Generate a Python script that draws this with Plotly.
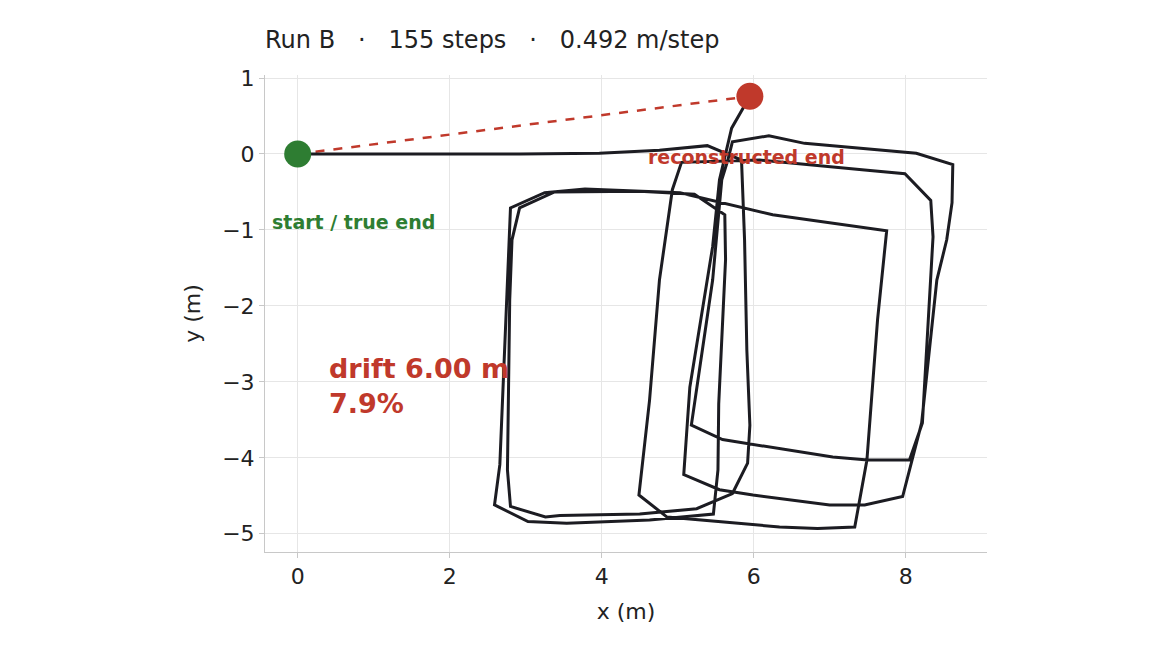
import plotly.graph_objects as go

path_x = [0, 1.34, 2.92, 3.97, 4.76, 5.39, 5.84, 5.88, 5.91, 5.95, 5.92, 5.72, 5.25, 4.50, 3.45, 3.26,
          2.80, 2.76, 2.79, 2.82, 2.92, 3.38, 4.50, 5.22, 5.62, 5.63, 5.59, 5.54, 5.53, 5.47, 4.63,
          3.54, 3.03, 2.59, 2.66, 2.71, 2.75, 2.78, 2.80, 3.25, 3.78, 5.03, 6.25, 7.75, 7.63, 7.49,
          7.33, 6.84, 6.34, 4.86, 4.49, 4.63, 4.76, 4.93, 5.05, 6.08, 7.46, 7.99, 8.33, 8.36, 8.22,
          8.05, 7.50, 7.04, 5.59, 5.18, 5.46, 5.58, 5.66, 5.72, 6.20, 6.67, 8.14, 8.62, 8.61, 8.54,
          8.41, 8.21, 7.96, 7.46, 7.00, 5.99, 5.55, 5.08, 5.16, 5.46, 5.55, 5.71, 5.95]
path_y = [0, 0, 0, 0.01, 0.05, 0.11, -0.08, -1.13, -2.58, -3.57, -4.07, -4.47, -4.67, -4.74, -4.76, -4.78,
          -4.64, -4.16, -1.92, -1.13, -0.71, -0.50, -0.49, -0.53, -0.80, -1.39, -2.32, -3.29, -4.16, -4.74, -4.82,
          -4.86, -4.84, -4.62, -4.09, -2.97, -1.92, -1.20, -0.71, -0.51, -0.46, -0.51, -0.80, -1.01, -2.18, -4.03,
          -4.91, -4.93, -4.91, -4.78, -4.49, -3.24, -1.66, -0.47, -0.11, -0.08, -0.21, -0.26, -0.61, -1.09, -3.54,
          -4.03, -4.03, -3.99, -3.76, -3.57, -1.66, -0.34, -0.08, 0.16, 0.24, 0.14, 0.01, -0.14, -0.64, -1.13,
          -1.66, -3.54, -4.51, -4.62, -4.62, -4.49, -4.42, -4.22, -3.07, -1.22, -0.34, 0.34, 0.76]
start_pt = (0.0, 0.0)
end_pt = (5.95, 0.76)
x_ticks = [0, 2, 4, 6, 8]
y_ticks = [1, 0, -1, -2, -3, -4, -5]

RED = "#c0392b"
GREEN = "#2e7d32"
FONT = "DejaVu Sans"

fig = go.Figure()
fig.add_trace(go.Scatter(x=[start_pt[0], end_pt[0]], y=[start_pt[1], end_pt[1]], mode="lines",
                         line=dict(color=RED, width=2.5, dash="dash"), showlegend=False))
fig.add_trace(go.Scatter(x=path_x, y=path_y, mode="lines",
                         line=dict(color="#1c1c22", width=3), showlegend=False))
fig.add_trace(go.Scatter(x=[start_pt[0]], y=[start_pt[1]], mode="markers",
                         marker=dict(color=GREEN, size=27), showlegend=False))
fig.add_trace(go.Scatter(x=[end_pt[0]], y=[end_pt[1]], mode="markers",
                         marker=dict(color=RED, size=27), showlegend=False))

fig.add_annotation(x=-0.36, y=-0.9, text="<b>start / true end</b>", showarrow=False,
                   xanchor="left", font=dict(color=GREEN, size=19, family=FONT))
fig.add_annotation(x=5.9, y=-0.04, text="<b>reconstructed end</b>", showarrow=False,
                   font=dict(color=RED, size=19, family=FONT))
fig.add_annotation(x=0.39, y=-3.05, text="<b>drift 6.00 m<br>7.9%</b>", showarrow=False,
                   xanchor="left", align="left", font=dict(color=RED, size=27, family=FONT))

fig.update_layout(
    width=1164, height=655, plot_bgcolor="white", paper_bgcolor="white",
    margin=dict(l=257, r=185, t=67, b=111),
    font=dict(family=FONT, size=22, color="#222"),
    title=dict(text="Run B   ·   155 steps   ·   0.492 m/step", x=257/1164, xanchor="left",
               y=1-32/655, yanchor="middle", font=dict(size=24, family=FONT)),
    xaxis=dict(range=[-0.43, 9.07], tickvals=x_ticks, title=dict(text="x (m)", font=dict(size=22)),
               showgrid=True, gridcolor="#e6e6e6", zeroline=False, showline=True, linecolor="#c8c8c8",
               ticks="outside", ticklen=5, tickcolor="#c8c8c8"),
    yaxis=dict(range=[-5.24, 1.04], tickvals=y_ticks, title=dict(text="y (m)", font=dict(size=22)),
               showgrid=True, gridcolor="#e6e6e6", zeroline=False, showline=True, linecolor="#c8c8c8",
               ticks="outside", ticklen=5, tickcolor="#c8c8c8"),
)
fig.write_html("out.html")
